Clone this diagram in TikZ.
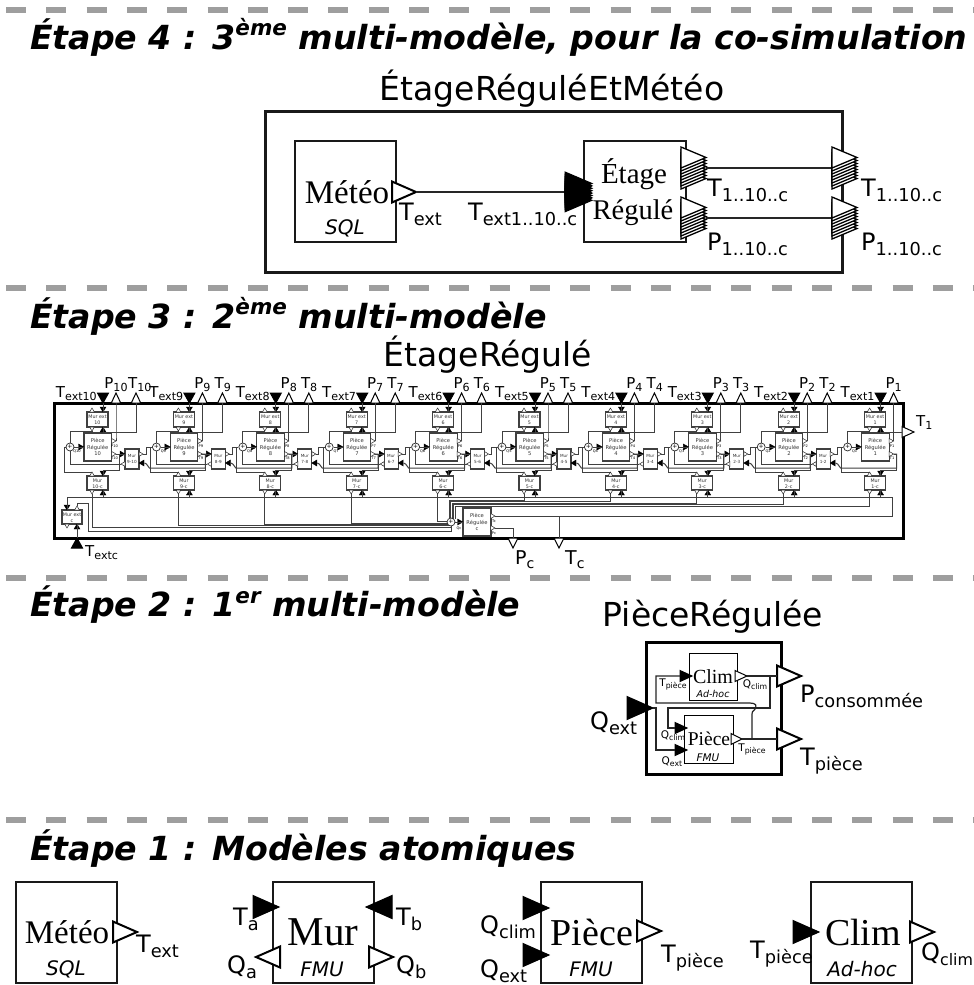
\documentclass[tikz,border=0pt]{standalone}
\usepackage{fontspec}
\usepackage{graphicx}
\setmainfont{DejaVu Sans}
\newfontfamily\srf{Liberation Serif}
\usetikzlibrary{calc}
\newcommand\lab[3]{{\fontsize{#1}{#1}\selectfont #2\raisebox{-.22em}{\scalebox{.74}{#3}}}}
\newcommand\labn[3]{{\fontsize{#1}{#1}\selectfont #2\raisebox{-.22em}{\scalebox{.66}{#3}}}}
\newcommand\Tri[7]{\coordinate (#1) at (#3,#4);\draw[#2,shift={(#3,#4)},rotate=#5] (0,0)--(-#6,#7)--(-#6,-#7)--cycle;}
\newcommand\head[2]{\node[headtxt,anchor=west] (#1) at (30,#2)}
\newcommand\fsz[1]{\fontsize{#1}{#1}\selectfont}
\tikzset{
  x=1pt,y=-1pt,
  headtxt/.style={inner sep=0,font=\fsz{33.2}\bfseries\itshape},
  sep/.style={draw=black!38,line width=6pt,dash pattern=on 20pt off 20.3pt},
  bigbox/.style={draw=black!90,line width=2pt,fill=white,inner sep=0,outer sep=0,align=center},
  frame/.style={draw=black,line width=3pt,inner sep=0,outer sep=0},
  bx/.style={draw=black!75,line width=1.1pt,fill=white,inner sep=0,outer sep=0,align=center},
  wire/.style={draw=black!75,line width=1pt},
  bwire/.style={draw=black!85,line width=1.2pt},
  fb/.style={fill=black,draw=black,line width=1pt,line join=miter},
  wb/.style={fill=white,draw=black,line width=2pt,line join=miter},
  ft/.style={fill=black,draw=black,line width=.4pt},
  wt/.style={fill=white,draw=black!85,line width=.5pt},
  wm/.style={fill=white,draw=black,line width=1pt,line join=miter},
  tiny/.style={inner sep=0,font=\fsz{4.8}},
  txt/.style={inner sep=0},
}
\begin{document}
\begin{tikzpicture}
\useasboundingbox (0,0) rectangle (974,985);
\fill[white] (0,0) rectangle (974,985);
% separators
\coordinate (s1a) at (6,10);\coordinate (s1b) at (974,10);
\coordinate (s2a) at (6,288);\coordinate (s2b) at (974,288);
\coordinate (s3a) at (6,578);\coordinate (s3b) at (974,578);
\coordinate (s4a) at (6,820);\coordinate (s4b) at (974,820);
\draw[sep] (s1a)--(s1b);\draw[sep] (s2a)--(s2b);\draw[sep] (s3a)--(s3b);\draw[sep] (s4a)--(s4b);
% headings
\head{h4}{37}{Étape 4 : 3\raisebox{.42em}{\fsz{21.5}ème} multi-modèle, pour la co-simulation};
\head{h3}{316}{Étape 3 : 2\raisebox{.42em}{\fsz{21.5}ème} multi-modèle};
\head{h2}{605}{Étape 2 : 1\raisebox{.42em}{\fsz{21.5}er} multi-modèle};
\head{h1}{849}{Étape 1 : Modèles atomiques};

%%%%%%%%%% Etape 4
\node[txt,font=\fsz{33}] (t4) at (552,89) {ÉtageRéguléEtMétéo};
\node[bigbox,fill=none,line width=3pt,minimum width=577pt,minimum height=161pt,anchor=north west] (f4) at (265.5,111.5) {};
\node[bigbox,minimum width=101pt,minimum height=101pt,anchor=north west] (meteo4) at (295,141) {};
\node[txt,font=\srf\fsz{33}] (meteo4t) at (347,192) {Météo};
\node[txt,font=\fsz{20}\itshape] (meteo4s) at (345,228) {SQL};
\node[bigbox,minimum width=102pt,minimum height=101pt,anchor=north west] (etage4) at (584,141) {};
\node[txt,font=\srf\fsz{29}] (etage4a) at (634,174) {Étage};
\node[txt,font=\srf\fsz{28.5}] (etage4b) at (633,213) {Régulé};
\Tri{mo}{wb}{416}{192}{0}{24}{10.5}
\coordinate (ein) at (565,192);
\draw[bwire] (mo)--(ein);
\foreach \k in {0,...,7}{\draw[fb,shift={(592,172+\k*2.4+11.5)}] (0,0)--(-27,11.5)--(-27,-11.5)--cycle;}
\coordinate (ta) at (706,168);\coordinate (tb) at (831,168);
\coordinate (pa) at (706,218);\coordinate (pb) at (831,218);
\draw[bwire] (ta)--(tb);\draw[bwire] (pa)--(pb);
\foreach \xx in {706,857}{
 \foreach \yy in {147,197}{
  \foreach \k in {7,...,0}{\draw[fill=white,draw=black,line width=1.3pt,line join=miter,shift={(\xx,\yy+10.5+\k*3)}] (0,0)--(-25,10.5)--(-25,-10.5)--cycle;}
 }}
\node[txt,anchor=base west] (l1) at (399,220) {\lab{24}{T}{ext}};
\node[txt,anchor=base west] (l2) at (468,220) {\lab{24}{T}{ext1..10..c}};
\node[txt,anchor=base west] (l3) at (707,196) {\lab{24}{T}{1..10..c}};
\node[txt,anchor=base west] (l4) at (861,196) {\lab{24}{T}{1..10..c}};
\node[txt,anchor=base west] (l5) at (707,250) {\lab{24}{P}{1..10..c}};
\node[txt,anchor=base west] (l6) at (861,250) {\lab{24}{P}{1..10..c}};

%%%%%%%%%% Etape 3
\node[txt,font=\fsz{33}] (t3) at (488,355) {ÉtageRégulé};
\node[frame,minimum width=849pt,minimum height=135pt,anchor=north west] (f3) at (54.5,403) {};
% bus lines
\coordinate (busa) at (892,516);\coordinate (busb) at (892,497.5);\coordinate (busc) at (67,497.5);
\foreach \i in {1,...,10}{
 \pgfmathsetmacro\X{84+(10-\i)*86.4}
 \node[bx,minimum width=27.5pt,minimum height=28pt,anchor=north west] (R\i) at (\X,433) {};
 \node[tiny,align=center,font=\fsz{5.2},text=black!80] at (\X+13.7,447) {Pièce\\[1.6pt]Régulée\\[1.6pt]\i};
 \node[bx,minimum width=21pt,minimum height=15pt,anchor=north west] (E\i) at (\X+3,412) {};
 \node[tiny,align=center,text=black!80] at (\X+13.5,420) {Mur ext\\[1.2pt]\i};
 \node[bx,minimum width=21pt,minimum height=14pt,anchor=north west] (B\i) at (\X+3,476) {};
 \node[tiny,align=center,text=black!80] at (\X+13.5,484) {Mur\\[1.4pt]\i-c};
 \node[draw=black!85,line width=.7pt,circle,fill=white,minimum size=8pt,inner sep=0,font=\fsz{6}] (S\i) at (\X-14,447) {+};
 \node[tiny,font=\fsz{3.6}] at (\X-7,451.5) {Q\i};
 \node[tiny,font=\fsz{3.6}] at (\X+30.5,446) {P\i};
 \node[tiny,font=\fsz{3.6}] at (\X+30.5,458) {T\i};
 % top ports
 \Tri{TE\i}{fb}{\X+19}{403}{-90}{10}{5.5}
 \Tri{TP\i}{wm}{\X+32}{393}{90}{10}{4.7}
 % small tips
 \Tri{pout\i}{wt}{\X+32}{441}{0}{4.5}{2.6}
 \Tri{tout\i}{wt}{\X+32}{454}{0}{4.5}{2.6}
 \Tri{sin\i}{ft}{\X}{447}{0}{5.5}{3}
 \Tri{ein\i}{ft}{\X+19}{412}{-90}{5}{3}
 \Tri{eup\i}{ft}{\X+19}{427}{90}{5}{3}
 \Tri{eo\i}{wt}{\X+8}{431}{-90}{4}{2.4}
 \Tri{et\i}{wt}{\X+8}{408}{90}{4}{2.4}
 \Tri{bin\i}{ft}{\X+19}{476}{-90}{5}{3}
 \Tri{bo\i}{wt}{\X+8}{472}{90}{4}{2.4}
 \Tri{bup\i}{ft}{\X+19}{490}{90}{5}{3}
 \Tri{bd\i}{wt}{\X+8}{494}{-90}{4}{2.4}
 % wires
 \draw[wire] (TE\i)--(ein\i);
 \draw[wire] (TP\i)++(0,10)--++(0,33)--(pout\i);
 \draw[wire] (eo\i)--++(0,.5)-|(S\i);
 \draw[wire] (S\i)--(sin\i);
 \draw[wire] (bo\i)--++(0,0)|-(\X-20,472)|-(S\i.west);
 \draw[wire] (tout\i)--(\X+35,454)|-(\X+19,470.5)--(bin\i);
 \draw[wire] (bup\i)--(\X+19,497.5);
}
% T top ports 2..10
\foreach \i in {2,...,10}{
 \pgfmathsetmacro\X{84+(10-\i)*86.4}
 \Tri{TT\i}{wm}{\X+52}{393}{90}{10}{4.7}
 \coordinate (TTb\i) at (\X+52,403);
 \draw[wire] (TTb\i)--(\X+52,432)-|(eup\i);
 \node[txt,anchor=base west] at (\X+44,388) {\lab{15}{T}{\i}};
}
% room 1 T
\Tri{TT1}{wm}{914}{432}{0}{12}{5.5}
\coordinate (TTb1) at (902,432);
\draw[wire] (TTb1)-|(eup1);
\node[txt,anchor=base west] at (916,426) {\lab{15}{T}{1}};
% labels
\foreach \i in {1,...,10}{
 \pgfmathsetmacro\X{84+(10-\i)*86.4}
 \node[txt,anchor=base east] at (\X+13,397) {\lab{15}{T}{ext\i}};
 \node[txt,anchor=base] at (\X+32,388) {\lab{15}{P}{\i}};
}
% walls between
\foreach \i in {1,...,9}{
 \pgfmathtruncatemacro\j{\i+1}
 \pgfmathsetmacro\X{84+(10-\j)*86.4}
 \node[bx,minimum width=14pt,minimum height=20pt,anchor=north west] (M\i) at (\X+41,449) {};
 \node[tiny,align=center,font=\fsz{4.2},text=black!80] at (\X+48,459) {Mur\\[2.5pt]\i-\j};
 \Tri{ml\i}{ft}{\X+41}{454}{0}{5}{3}
 \Tri{mr\i}{ft}{\X+55}{463}{180}{5}{3}
 \Tri{mol\i}{wt}{\X+37}{464}{180}{4}{2.4}
 \Tri{mor\i}{wt}{\X+59}{454}{0}{4}{2.4}
 \draw[wire] (tout\j)--(ml\i);
 \draw[wire] (mol\i)-|(S\j);
 \draw[wire] (mor\i)--(\X+62,454)|-(S\i);
 \draw[wire] (tout\i)--(\X+86.4+35,454)|-(\X+86.4-21,468)--(\X+86.4-24,464)--(\X+86.4-26,463);
}
% corridor
\node[bx,minimum width=28pt,minimum height=28pt,anchor=north west] (Rc) at (463,508) {};
\node[tiny,align=center,font=\fsz{5.2},text=black!80] at (477,522) {Pièce\\[1.6pt]Régulée\\[1.6pt]c};
\node[tiny,font=\fsz{3.6}] at (459,528) {Qc};
\node[tiny,font=\fsz{3.6}] at (494,521) {Tc};
\node[tiny,font=\fsz{3.6}] at (494,533) {Pc};
\coordinate (Sc) at (451,522);
\Tri{cin}{ft}{463}{522}{0}{5.5}{3}
\Tri{ct}{wt}{495}{516}{0}{4.5}{2.6}
\Tri{cp}{wt}{495}{528}{0}{4.5}{2.6}
\draw[wire] (Sc)--(cin);
\Tri{Pc}{wm}{513}{548}{-90}{10}{5}
\Tri{Tc}{wm}{559}{548}{-90}{10}{5}
\coordinate (Pct) at (513,538);\coordinate (Tct) at (559,538);
\draw[wire] (cp)-|(Pct);
\draw[wire] (ct)--(busa)--(busb)--(busc);
\coordinate (Tcj) at (559,516);
\draw[wire] (Tcj)--(Tct);
\node[txt,anchor=base west] at (515,564) {\lab{19}{P}{c}};
\node[txt,anchor=base west] at (565,564) {\lab{19}{T}{c}};
% mur ext c
\node[bx,minimum width=20pt,minimum height=14pt,anchor=north west] (Ec) at (62,510) {};
\node[tiny,align=center,text=black!80] at (72,517.5) {Mur ext\\[1pt]c};
\Tri{Eci}{ft}{67}{510}{-90}{5}{3}
\Tri{Eco}{wt}{77}{506}{90}{4}{2.4}
\Tri{Ecd}{wt}{67}{528}{-90}{4}{2.4}
\Tri{Ecu}{ft}{77}{524}{90}{5}{3}
\draw[wire] (busc)--(Eci);
\draw[wire] (Eco)|-(88,503)--(88,531)-|(Sc);
\Tri{Tx}{fb}{77}{538}{90}{10}{5.5}
\draw[wire] (Tx)--(Ecu);
\node[txt,anchor=base west] at (85,556) {\lab{15}{T}{extc}};
% mur bottom outputs to sum
\foreach \i/\yy in {10/527,9/525.6,8/524.3,7/523,6/521}{
 \draw[wire] (bd\i)|-(Sc|-0,\yy);
}
\foreach \i/\yy/\xx in {5/500/449,4/501.5/450.5,3/503/452,2/504.5/453.5,1/506/455}{
 \draw[wire] (bd\i)|-(\xx,\yy)--(\xx,519);
}
\node[draw=black!85,line width=.7pt,circle,fill=white,minimum size=8pt,inner sep=0,font=\fsz{6}] (Sc2) at (Sc) {+};

%%%%%%%%%% Etape 2
\node[txt,font=\fsz{33}] (t2) at (713,617) {PièceRégulée};
\node[frame,fill=white,minimum width=135pt,minimum height=132pt,anchor=north west] (f2) at (646,642) {};
\node[bx,draw=black,line width=1pt,minimum width=48pt,minimum height=47pt,anchor=north west] (cl) at (689,653) {};
\node[txt,font=\srf\fsz{20}] at (713,677) {Clim};
\node[txt,font=\fsz{9.5}\itshape] at (713,694) {Ad-hoc};
\node[bx,draw=black,line width=1pt,minimum width=49pt,minimum height=48pt,anchor=north west] (pc) at (684,715) {};
\node[txt,font=\srf\fsz{19.5}] at (709,739) {Pièce};
\node[txt,font=\fsz{10.5}\itshape] at (708,758) {FMU};
\Tri{qx}{fb}{653}{708}{0}{26}{11.5}
\Tri{cli}{fb}{692}{676}{0}{12}{5.5}
\Tri{clo}{wm}{747}{676}{0}{12}{5.5}
\Tri{pcq}{fb}{687}{728}{0}{12}{5.5}
\Tri{pcx}{fb}{687}{750}{0}{12}{5.5}
\Tri{pco}{wm}{742}{739}{0}{11}{5.5}
\Tri{oP}{wb}{801}{676}{0}{24}{10.5}
\Tri{oT}{wb}{801}{739}{0}{24}{10.5}
\coordinate (oPb) at (777,676);\coordinate (oTb) at (777,739);
\coordinate (cliB) at (680,676);\coordinate (pcqB) at (675,728);\coordinate (pcxB) at (675,750);
\draw[bwire] (clo)--(oPb);
\draw[bwire] (pco)--(oTb);
\draw[bwire] (cliB)-|(656,703)--(750,703) .. controls (756,703) and (757,706) .. (756,708) .. controls (755,711) and (752,710) .. (752,714)--(752,739);
\draw[bwire] (770,676)|-(668,708)|-(pcqB);
\draw[bwire] (qx)-|(656,750)--(pcxB);
\node[txt,anchor=base] at (673,686) {\lab{10.5}{T}{pièce}};
\node[txt,anchor=base] at (755,687) {\lab{10.5}{Q}{clim}};
\node[txt,anchor=base] at (673,738) {\lab{10.5}{Q}{clim}};
\node[txt,anchor=base] at (672,764) {\lab{10.5}{Q}{ext}};
\node[txt,anchor=base] at (752,751) {\lab{10.5}{T}{pièce}};
\node[txt,anchor=base west] at (590,729) {\lab{24}{Q}{ext}};
\node[txt,anchor=base west] at (800,702) {\lab{24}{P}{consommée}};
\node[txt,anchor=base west] at (800,765) {\lab{24}{T}{pièce}};

%%%%%%%%%% Etape 1
\node[bigbox,minimum width=101pt,minimum height=101pt,anchor=north west] (a1) at (16,882) {};
\node[txt,font=\srf\fsz{33}] at (67,932) {Météo};
\node[txt,font=\fsz{20}\itshape] at (66,969) {SQL};
\node[bigbox,minimum width=101pt,minimum height=101pt,anchor=north west] (a2) at (272.5,882) {};
\node[txt,font=\srf\fsz{41}] at (323,932) {Mur};
\node[txt,font=\fsz{20}\itshape] at (322,969) {FMU};
\node[bigbox,minimum width=101pt,minimum height=101pt,anchor=north west] (a3) at (540.5,882) {};
\node[txt,font=\srf\fsz{38}] at (592,932) {Pièce};
\node[txt,font=\fsz{20}\itshape] at (591,969) {FMU};
\node[bigbox,minimum width=101pt,minimum height=101pt,anchor=north west] (a4) at (811,882) {};
\node[txt,font=\srf\fsz{38}] at (863,932) {Clim};
\node[txt,font=\fsz{20}\itshape] at (862,969) {Ad-hoc};
\Tri{a1o}{wb}{137}{932}{0}{24}{10.5}
\Tri{a2a}{fb}{279}{907}{0}{26}{11.5}
\Tri{a2b}{fb}{366}{907}{180}{26}{11.5}
\Tri{a2c}{wb}{256}{957}{180}{24}{10.5}
\Tri{a2d}{wb}{393}{957}{0}{24}{10.5}
\Tri{a3a}{fb}{549}{908}{0}{26}{11.5}
\Tri{a3b}{fb}{549}{955}{0}{26}{11.5}
\Tri{a3o}{wb}{661}{931}{0}{24}{10.5}
\Tri{a4a}{fb}{819}{932}{0}{26}{11.5}
\Tri{a4o}{wb}{934}{932}{0}{24}{10.5}
\node[txt,anchor=base west] at (136,952) {\lab{24}{T}{ext}};
\node[txt,anchor=base west] at (233,925) {\lab{24}{T}{a}};
\node[txt,anchor=base west] at (396,925) {\lab{24}{T}{b}};
\node[txt,anchor=base west] at (227,973) {\lab{24}{Q}{a}};
\node[txt,anchor=base west] at (396,973) {\lab{24}{Q}{b}};
\node[txt,anchor=base west] at (480,933) {\lab{24}{Q}{clim}};
\node[txt,anchor=base west] at (480,977) {\lab{24}{Q}{ext}};
\node[txt,anchor=base west] at (661,962) {\lab{24}{T}{pièce}};
\node[txt,anchor=base west] at (750,958) {\lab{24}{T}{pièce}};
\node[txt,anchor=base west] at (921,960) {\labn{24}{Q}{clim}};
\end{tikzpicture}
\end{document}
